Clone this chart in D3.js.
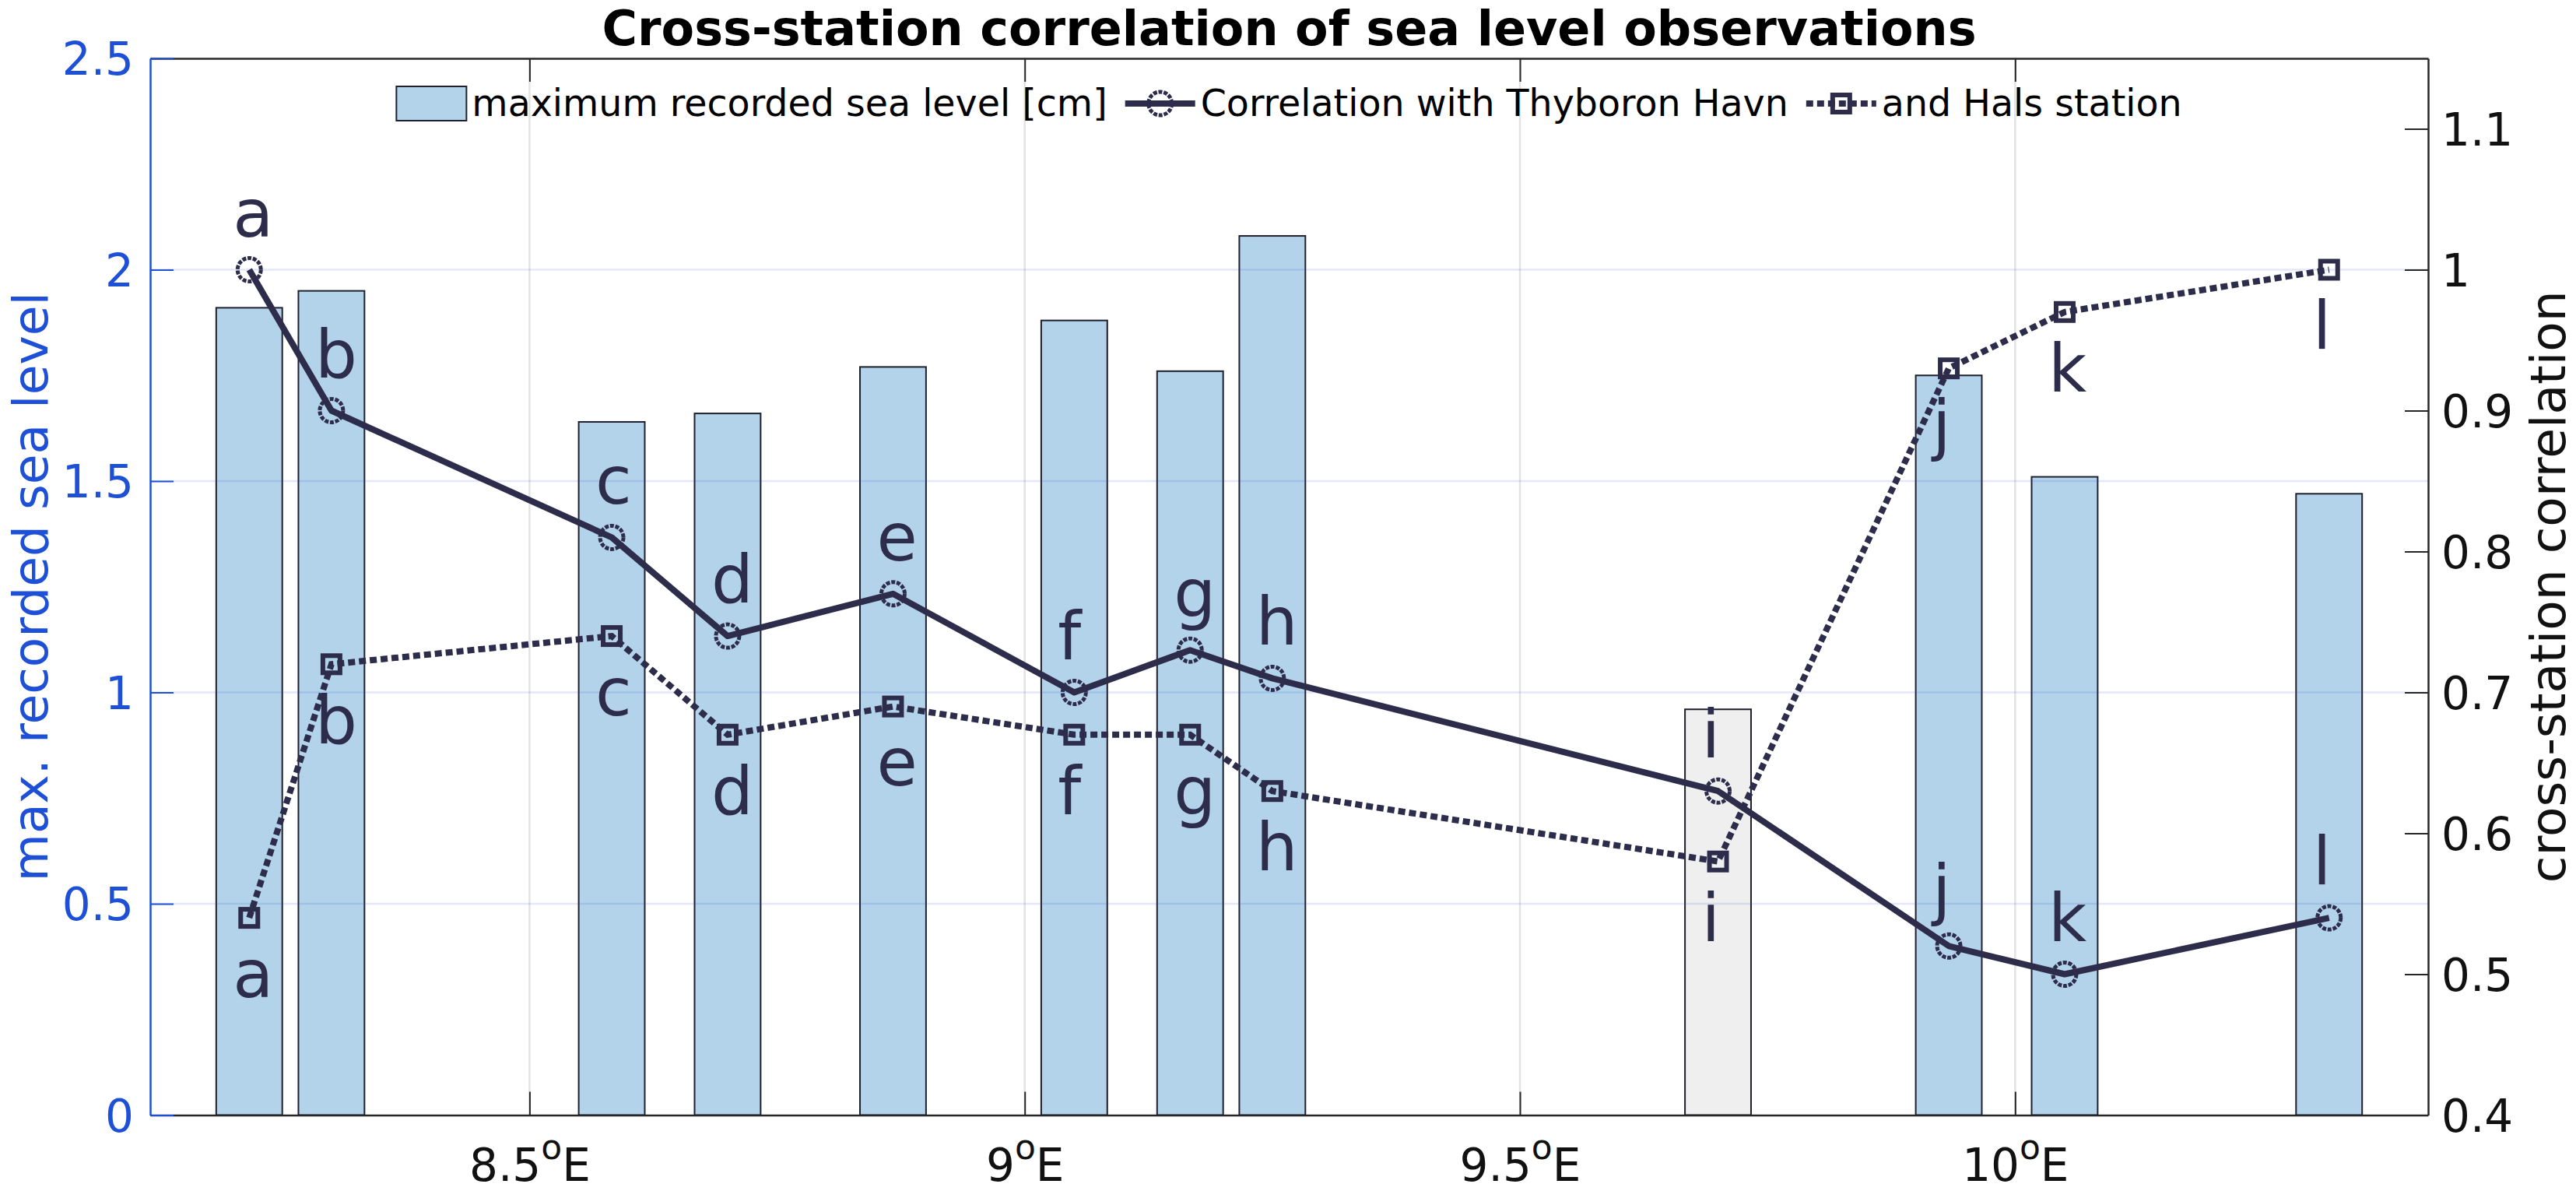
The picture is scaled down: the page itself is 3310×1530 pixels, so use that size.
<!DOCTYPE html>
<html>
<head>
<meta charset="utf-8">
<script src="https://d3js.org/d3.v7.min.js"></script>
<style>
  body { margin: 0; background: #fff; }
  svg { display: block; font-family: "DejaVu Sans", sans-serif; }
</style>
</head>
<body>
<svg id="chart" width="3310" height="1530"></svg>
<script>
// stations, west to east (longitude in deg E)
var stations = ["a", "b", "c", "d", "e", "f", "g", "h", "i", "j", "k", "l"];
var longitudes = [8.217, 8.300, 8.583, 8.700, 8.867, 9.050, 9.167, 9.250, 9.700, 9.933, 10.050, 10.317];

// left axis: maximum recorded sea level
var maxSeaLevel = [1.91, 1.95, 1.64, 1.66, 1.77, 1.88, 1.76, 2.08, 0.96, 1.75, 1.51, 1.47];

// right axis: cross-station correlation
var corrThyboron = [1.00, 0.90, 0.81, 0.74, 0.77, 0.70, 0.73, 0.71, 0.63, 0.52, 0.50, 0.54];
var corrHals = [0.54, 0.72, 0.74, 0.67, 0.69, 0.67, 0.67, 0.63, 0.58, 0.93, 0.97, 1.00];

// stations whose bar is drawn in grey
var greyStations = ["i"];

var xTicks = [8.5, 9, 9.5, 10];
var leftTicks = [0, 0.5, 1, 1.5, 2, 2.5];
var rightTicks = [0.4, 0.5, 0.6, 0.7, 0.8, 0.9, 1.0, 1.1];
var legendLabels = ["maximum recorded sea level [cm]", "Correlation with Thyboron Havn", "and Hals station"];

var titleText = "Cross-station correlation of sea level observations";
var leftLabel = "max. recorded sea level";
var rightLabel = "cross-station correlation";

// ---- layout / style ----
var plotLeft = 193, plotRight = 3120, plotTop = 75, plotBottom = 1432.5;
var ink = "#2d2c4b", blue = "#1d50d6", axisInk = "#262626";
var barFill = "#b3d3ea", greyFill = "#efefef";
var barWidth = 0.0667;     // deg
var labelDx = 0.0165;      // deg, letter offset to the left
var labelDy = 0.04;        // correlation units
var tickLen = 30;
var dotted = "9,5";

var rows = stations.map(function(s, i) {
	return { name: s, lon: longitudes[i], level: maxSeaLevel[i], thy: corrThyboron[i], hals: corrHals[i] };
});

var svg = d3.select("#chart");

var x = d3.scaleLinear()
	.domain([d3.min(longitudes) - 0.1, d3.max(longitudes) + 0.1])
	.range([plotLeft, plotRight]);
var yL = d3.scaleLinear().domain([0, 2.5]).range([plotBottom, plotTop]);
var yR = d3.scaleLinear().domain([0.4, 1.15]).range([plotBottom, plotTop]);

// bars
svg.append("g")
	.selectAll("rect")
	.data(rows)
	.join("rect")
	.attr("x", function(d) { return x(d.lon - barWidth / 2); })
	.attr("y", function(d) { return yL(d.level); })
	.attr("width", function(d) { return x(d.lon + barWidth / 2) - x(d.lon - barWidth / 2); })
	.attr("height", function(d) { return yL(0) - yL(d.level); })
	.attr("fill", function(d) { return greyStations.indexOf(d.name) >= 0 ? greyFill : barFill; })
	.attr("stroke", "#1f1f2e")
	.attr("stroke-width", 2);

// grid (drawn over the bars, semi transparent like the original)
var grid = svg.append("g");
grid.selectAll("line.h")
	.data(leftTicks.filter(function(t) { return t > 0 && t < 2.5; }))
	.join("line")
	.attr("class", "h")
	.attr("x1", plotLeft).attr("x2", plotRight)
	.attr("y1", function(d) { return yL(d); })
	.attr("y2", function(d) { return yL(d); })
	.attr("stroke", "rgba(29,80,214,0.13)")
	.attr("stroke-width", 2.5);
grid.selectAll("line.v")
	.data(xTicks)
	.join("line")
	.attr("class", "v")
	.attr("y1", plotTop).attr("y2", plotBottom)
	.attr("x1", function(d) { return x(d); })
	.attr("x2", function(d) { return x(d); })
	.attr("stroke", "rgba(38,38,38,0.13)")
	.attr("stroke-width", 2.5);

// correlation lines
var lineThy = d3.line().x(function(d) { return x(d.lon); }).y(function(d) { return yR(d.thy); });
var lineHals = d3.line().x(function(d) { return x(d.lon); }).y(function(d) { return yR(d.hals); });

svg.append("path")
	.datum(rows)
	.attr("d", lineHals)
	.attr("fill", "none")
	.attr("stroke", ink)
	.attr("stroke-width", 8)
	.attr("stroke-dasharray", dotted);

svg.append("path")
	.datum(rows)
	.attr("d", lineThy)
	.attr("fill", "none")
	.attr("stroke", ink)
	.attr("stroke-width", 8)
	.attr("stroke-linejoin", "round");

function drawCircle(sel) {
	sel.attr("r", 15)
		.attr("fill", "none")
		.attr("stroke", ink)
		.attr("stroke-width", 5)
		.attr("stroke-dasharray", "5,1.8");
}
function drawSquare(sel) {
	sel.attr("width", 22).attr("height", 22)
		.attr("fill", "none")
		.attr("stroke", ink)
		.attr("stroke-width", 6);
}

svg.append("g").selectAll("circle")
	.data(rows)
	.join("circle")
	.attr("cx", function(d) { return x(d.lon); })
	.attr("cy", function(d) { return yR(d.thy); })
	.call(drawCircle);

svg.append("g").selectAll("rect")
	.data(rows)
	.join("rect")
	.attr("x", function(d) { return x(d.lon) - 11; })
	.attr("y", function(d) { return yR(d.hals) - 11; })
	.call(drawSquare);

// station letters: above the Thyboron markers, below the Hals markers
var letters = svg.append("g")
	.attr("font-size", 85)
	.attr("fill", ink);
letters.selectAll("text.thy")
	.data(rows)
	.join("text")
	.attr("class", "thy")
	.attr("x", function(d) { return x(d.lon - labelDx); })
	.attr("y", function(d) { return yR(d.thy + labelDy); })
	.attr("dy", "0.346em")
	.text(function(d) { return d.name; });
letters.selectAll("text.hals")
	.data(rows)
	.join("text")
	.attr("class", "hals")
	.attr("x", function(d) { return x(d.lon - labelDx); })
	.attr("y", function(d) { return yR(d.hals - labelDy); })
	.attr("dy", "0.346em")
	.text(function(d) { return d.name; });

// axes
function styleAxis(g, color, width) {
	g.attr("font-family", "DejaVu Sans").attr("font-size", 58);
	g.style("color", color);
	g.select(".domain").attr("stroke-width", width);
	g.selectAll(".tick line").attr("stroke-width", 2);
}

var topAxis = svg.append("g")
	.attr("transform", "translate(0," + plotTop + ")")
	.call(d3.axisTop(x).tickValues(xTicks).tickSize(-tickLen).tickSizeOuter(0).tickFormat(""));
styleAxis(topAxis, axisInk, 2.5);

var bottomAxis = svg.append("g")
	.attr("transform", "translate(0," + plotBottom + ")")
	.call(d3.axisBottom(x).tickValues(xTicks).tickSize(-tickLen).tickSizeOuter(0).tickPadding(43));
styleAxis(bottomAxis, axisInk, 2.5);
bottomAxis.selectAll(".tick text")
	.attr("fill", "#111")
	.each(function(d) {
		var t = d3.select(this).text(null);
		t.append("tspan").text(d3.format("")(d));
		t.append("tspan").attr("font-size", 44).attr("dy", -28).text("o");
		t.append("tspan").attr("dy", 28).text("E");
	});

var rightAxis = svg.append("g")
	.attr("transform", "translate(" + plotRight + ",0)")
	.call(d3.axisRight(yR).tickValues(rightTicks).tickSize(-tickLen).tickSizeOuter(0).tickPadding(17).tickFormat(d3.format("")));
styleAxis(rightAxis, axisInk, 2.5);
rightAxis.selectAll(".tick text").attr("fill", "#111").attr("dy", "0.36em");

var leftAxis = svg.append("g")
	.attr("transform", "translate(" + plotLeft + ",0)")
	.call(d3.axisLeft(yL).tickValues(leftTicks).tickSize(-tickLen).tickSizeOuter(0).tickPadding(21).tickFormat(d3.format("")));
styleAxis(leftAxis, blue, 2.5);
leftAxis.selectAll(".tick text").attr("dy", "0.36em");

// title and axis labels
var midX = (plotLeft + plotRight) / 2, midY = (plotTop + plotBottom) / 2;
svg.append("text")
	.attr("x", midX).attr("y", 58)
	.attr("text-anchor", "middle")
	.attr("font-size", 62)
	.attr("font-weight", "bold")
	.attr("fill", "#000")
	.text(titleText);

svg.append("text")
	.attr("transform", "translate(61," + midY + ") rotate(-90)")
	.attr("text-anchor", "middle")
	.attr("font-size", 63)
	.attr("fill", blue)
	.text(leftLabel);

svg.append("text")
	.attr("transform", "translate(3296," + midY + ") rotate(-90)")
	.attr("text-anchor", "middle")
	.attr("font-size", 63)
	.attr("fill", "#111")
	.text(rightLabel);

// legend, horizontal, centred on the plot, no box
var legend = svg.append("g").attr("font-size", 47.5).attr("fill", "#000");
var legendY = 133, sampleW = 90, sampleGap = 7, itemGap = 23;
var legendTexts = legend.selectAll("text")
	.data(legendLabels)
	.join("text")
	.attr("y", legendY)
	.attr("dy", "0.346em")
	.text(function(d) { return d; });
var widths = [];
legendTexts.each(function() { widths.push(this.getComputedTextLength()); });
var total = 3 * (sampleW + sampleGap) + d3.sum(widths) + 2 * itemGap;
var cursor = midX - total / 2;
var sampleX = [];
legendTexts.each(function(d, i) {
	sampleX.push(cursor);
	d3.select(this).attr("x", cursor + sampleW + sampleGap);
	cursor += sampleW + sampleGap + widths[i] + itemGap;
});

legend.append("rect")
	.attr("x", sampleX[0]).attr("y", legendY - 22)
	.attr("width", sampleW).attr("height", 44)
	.attr("fill", barFill)
	.attr("stroke", "#1f1f2e")
	.attr("stroke-width", 2);

legend.append("line")
	.attr("x1", sampleX[1]).attr("x2", sampleX[1] + sampleW)
	.attr("y1", legendY).attr("y2", legendY)
	.attr("stroke", ink).attr("stroke-width", 8);
legend.append("circle")
	.attr("cx", sampleX[1] + sampleW / 2).attr("cy", legendY)
	.call(drawCircle);

legend.append("line")
	.attr("x1", sampleX[2]).attr("x2", sampleX[2] + sampleW)
	.attr("y1", legendY).attr("y2", legendY)
	.attr("stroke", ink).attr("stroke-width", 8)
	.attr("stroke-dasharray", dotted);
legend.append("rect")
	.attr("x", sampleX[2] + sampleW / 2 - 11).attr("y", legendY - 11)
	.call(drawSquare);
</script>
</body>
</html>
